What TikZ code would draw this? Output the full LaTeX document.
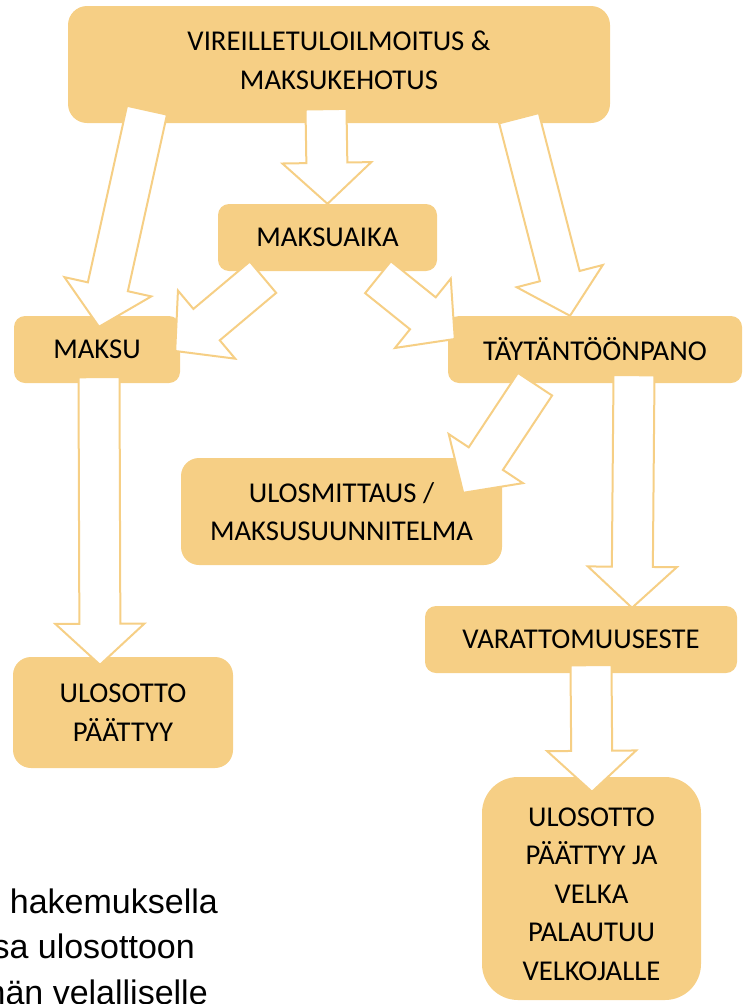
\documentclass[tikz,border=0pt]{standalone}
\usepackage{fontspec}
\setmainfont{Carlito}
\newfontfamily\arialfont{Liberation Sans}
\usetikzlibrary{calc}
\definecolor{boxfill}{HTML}{F6CF85}
\tikzset{
  box/.style={fill=boxfill, align=center, inner sep=0pt, font=\fontsize{28.7}{38.5}\selectfont},
  fatarrow/.style={draw=boxfill, fill=white, line width=2pt, line join=miter},
  note/.style={anchor=base east, inner sep=0pt, font=\arialfont\fontsize{34}{40}\selectfont},
}
\newcommand{\blockarrow}[2]{%
  \path (#1) coordinate (ba-t) (#2) coordinate (ba-h);
  \path ($(ba-h)!41pt!(ba-t)$) coordinate (ba-n);
  \draw[fatarrow] ($(ba-t)!20.5pt!90:(ba-h)$) -- ($(ba-n)!20.5pt!90:(ba-h)$)
    -- ($(ba-n)!44.5pt!90:(ba-h)$) -- (ba-h) -- ($(ba-n)!44.5pt!-90:(ba-h)$)
    -- ($(ba-n)!20.5pt!-90:(ba-h)$) -- ($(ba-t)!20.5pt!-90:(ba-h)$) -- cycle;
}
\begin{document}
\begin{tikzpicture}[x=1pt,y=-1pt]
\useasboundingbox (0,0) rectangle (743,1004);
\clip (0,0) rectangle (743,1004);

\node[box, minimum width=542pt, minimum height=117pt, rounded corners=19pt, text depth=9pt] (ilmoitus) at (339,64.5) {VIREILLETULOILMOITUS \&\\MAKSUKEHOTUS};
\node[box, minimum width=219pt, minimum height=67pt, rounded corners=11pt] (maksuaika) at (327.5,237.5) {MAKSUAIKA};
\node[box, minimum width=166pt, minimum height=67pt, rounded corners=11pt] (maksu) at (97,349.5) {MAKSU};
\node[box, minimum width=294pt, minimum height=67pt, rounded corners=11pt] (taytanto) at (595,349.5) {TÄYTÄNTÖÖNPANO};
\node[box, minimum width=321pt, minimum height=107pt, rounded corners=18pt] (ulosmittaus) at (341.5,511.5) {ULOSMITTAUS /\\MAKSUSUUNNITELMA};
\node[box, minimum width=312pt, minimum height=67pt, rounded corners=11pt] (varattomuus) at (581,639.5) {VARATTOMUUSESTE};
\node[box, minimum width=220pt, minimum height=111pt, rounded corners=18pt] (ulosotto) at (123,712.5) {ULOSOTTO\\PÄÄTTYY};
\node[box, minimum width=219pt, minimum height=223pt, rounded corners=36pt, text height=184pt] (palautuu) at (591.5,888.5) {ULOSOTTO\\PÄÄTTYY JA\\VELKA\\PALAUTUU\\VELKOJALLE};

\blockarrow{[shift={(-192,-13)}]ilmoitus.south}{[shift={(2,11)}]maksu.north}
\blockarrow{[shift={(-13,-14)}]ilmoitus.south}{maksuaika.north}
\blockarrow{[shift={(180,-5)}]ilmoitus.south}{[shift={(-25,0)}]taytanto.north}
\blockarrow{[shift={(-64.5,6)}]maksuaika.south}{[shift={(-5,1.5)}]maksu.east}
\blockarrow{[shift={(50.5,6)}]maksuaika.south}{[shift={(7,-10.5)}]taytanto.west}
\blockarrow{[shift={(-60,1)}]taytanto.south}{[shift={(-39,35)}]ulosmittaus.north east}
\blockarrow{[shift={(2,-6)}]maksu.south}{[shift={(-23,8)}]ulosotto.north}
\blockarrow{[shift={(39,-8)}]taytanto.south}{[shift={(51,2)}]varattomuus.north}
\blockarrow{[shift={(10,-8)}]varattomuus.south}{[shift={(0.5,15)}]palautuu.north}

\node[note] (txta) at (218,913) {hakemuksella};
\node[note] (txtb) at (195,958) {sa ulosottoon};
\node[note] (txtc) at (208,1004) {hän velalliselle};
\end{tikzpicture}
\end{document}
